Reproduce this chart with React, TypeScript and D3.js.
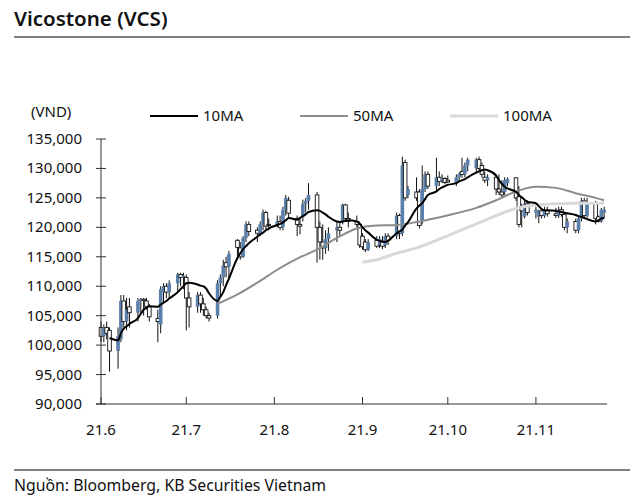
import React from "react";
import * as d3 from "d3";

// Trading calendar range (weekdays between these dates)
const START = "2021-06-01";
const END = "2021-11-26";

// Daily OHLC, thousand VND (Jun 22d, Jul 22d, Aug 22d, Sep 22d, Oct 21d, Nov 19d)
const OPEN = [
  103, 101.5, 103, 102.5, 99, 101, 107.5, 104, 106.5, 105.5, 107.5, 107.8, 107.5, 106.5, 104.5, 103.5, 109, 110, 109, 110.5, 112, 111.5,
  111.5, 108, 106.5, 108.5, 107, 106, 105, 105, 110.5, 111.5, 114, 113.3, 117.8, 116.5, 115, 118.2, 120.5, 119.5, 119, 120.5, 122.5, 120.5,
  120.3, 121, 120, 123, 124.6, 121.5, 120.5, 121.8, 124, 124.5, 125.5, 120, 117.5, 116.5, 118, 119.5, 120, 121, 123.8, 121.5, 121, 120.5,
  118.5, 117.5, 116.2, 117.8, 117, 117.5, 117, 118.5, 118.5, 122, 119, 131, 125.5, 126, 126, 121, 126.5, 129, 127, 128.5, 128, 128.3,
  128, 127.5, 128.5, 129.5, 129, 130.5, 130, 131.5, 130.5, 128.5, 128, 128.5, 126.5, 126, 126, 127.5, 128.4, 125.2, 123.5, 121.8, 124,
  122.5, 121.8, 122.8, 122, 122.8, 122.3, 122, 123, 122.2, 120, 121, 119.5, 121.5, 124.5, 122, 124, 121.8, 121, 122.5,
];
const HIGH = [
  104, 103.5, 104, 103, 103, 108.5, 108.5, 108, 108, 108, 108, 108, 108, 107, 106, 110, 110.5, 110.5, 111, 112.3, 112.3, 112.3,
  112, 109, 109, 109, 108, 106.5, 105.5, 111, 112, 114.5, 115, 116, 118, 117.5, 118.5, 121, 121, 120, 121, 123, 122.8, 121.5,
  122, 122, 123.5, 125.5, 125.2, 122, 121.5, 124.7, 125, 127.5, 126, 121, 120.5, 119.5, 120, 121, 121, 124, 124, 122.5, 122, 121,
  119, 118, 118, 118.5, 118.5, 118.5, 119, 119, 122.5, 122.3, 132, 131.5, 127, 128.5, 126.5, 130.5, 129.5, 129.5, 131.8, 129.5, 129, 128.5,
  128.8, 129, 129.3, 131.8, 131, 131.8, 131.8, 132, 131, 129.5, 129, 129, 129, 128, 128.5, 128.5, 128.5, 127, 124, 124.5, 124.6,
  123.5, 123, 123.2, 123.5, 123.5, 123.3, 123.5, 123.5, 122.5, 121.5, 121.5, 122, 125, 125, 125, 124.5, 122, 123.3, 123.5,
];
const LOW = [
  100.5, 100.5, 101, 95.5, 96, 100.5, 103, 102.5, 103, 104, 105.5, 105, 106, 104, 100.5, 102, 107, 108, 108, 109, 110, 109.5,
  102.5, 103, 105.5, 105.5, 105, 104.5, 104, 104.5, 108, 110, 111.5, 111.5, 114.5, 114.5, 114.8, 117.5, 118.5, 117.5, 118.5, 119.5, 119.5, 119.5,
  120, 119.5, 119.5, 122, 121.5, 118.5, 118.8, 121, 122.5, 123, 114, 114.5, 114.5, 115.5, 116, 117.5, 118.5, 120.5, 121, 120, 120, 116.5,
  116.2, 115.8, 116, 116.5, 116.5, 116.3, 116.5, 117, 118, 118, 118.5, 124.5, 125, 124.5, 119.8, 120.5, 126, 126.5, 126, 127, 127.5, 127.3,
  127.5, 127, 127.8, 128.4, 128.5, 129.5, 129.4, 129.5, 128.5, 127.5, 127, 125.5, 125.5, 125, 125.5, 127, 124.5, 120, 120, 121.5, 122,
  121.5, 120.7, 121.5, 121.6, 121.8, 121.6, 121.6, 121.8, 119.5, 119, 119, 119, 121, 121.5, 121.5, 120.5, 120.8, 120.8, 121.5,
];
const CLOSE = [
  101.5, 103, 102, 99, 101.5, 107.5, 104, 106, 105.5, 107.5, 107.8, 107.6, 106.5, 104.8, 104, 109.5, 110, 109, 110.5, 112, 111.5, 111.8,
  108, 106.5, 108.5, 107, 106, 105, 104.6, 110.5, 111.5, 113.5, 113.3, 115.5, 116.6, 115, 118.2, 120.5, 119.3, 119, 120.5, 122.5, 120.2, 120.3,
  121, 120, 123, 125, 122.4, 120.5, 120.2, 124, 124.5, 125.5, 120, 117.5, 116.5, 118, 119, 120, 119.5, 123.8, 121.5, 121, 120.5, 117,
  116.7, 116.2, 117.5, 116.8, 118, 116.8, 118.5, 117.8, 122, 119, 130.5, 125, 126.5, 125, 120.3, 126.5, 129, 127, 128.5, 127.8, 128.3, 127.6,
  127.7, 128.5, 129, 129, 130.5, 131.5, 131.5, 130, 129, 128, 128.5, 126.5, 126, 125.5, 128, 128.2, 125, 120.5, 122.8, 124, 122.5,
  123, 122.8, 122, 122.8, 122.3, 122, 123, 122.2, 120, 121, 119.5, 121.5, 124.5, 122, 124, 121.5, 121, 123, 123,
];

// 10-day moving average, per trading day
const MA10 = [
  null, null, null, 101.2, 100.8, 102.0, 102.8, 103.2, 103.6, 104.6, 105.3, 106.0, 106.4, 106.6, 106.5, 106.9, 107.2, 107.5, 107.9, 109.0, 109.5, 110.0,
  110.5, 110.6, 110.3, 110.1, 110.0, 109.6, 108.8, 107.5, 108.2, 109.0, 110.2, 111.3, 114.8, 115.6, 116.3, 116.8, 117.3, 118.4, 118.8, 119.1, 119.5, 119.8,
  120.4, 120.6, 120.8, 121.2, 121.6, 121.3, 121.6, 121.9, 122.2, 122.6, 122.9, 122.8, 122.5, 122.2, 121.8, 121.0, 120.9, 121.0, 121.1, 121.2, 121.0, 120.6,
  120.0, 119.5, 119.1, 117.9, 117.7, 117.6, 117.5, 117.7, 119.0, 119.3, 119.6, 120.3, 120.9, 123.2, 123.7, 124.1, 124.8, 125.5, 126.1, 126.5, 126.8, 127.0,
  127.2, 127.5, 127.8, 128.0, 128.2, 128.5, 129.3, 129.5, 129.7, 129.8, 129.7, 128.8, 128.0, 127.4, 126.9, 126.6, 126.0, 125.5, 125.1, 124.7, 124.3,
  124.1, 123.6, 123.1, 122.9, 122.9, 122.8, 122.7, 122.6, 122.5, 122.4, 122.1, 121.9, 121.8, 121.6, 121.4, 121.0, 121.2, 121.5, 121.6,
];

const MA50_DATES = [
  "2021-07-12", "2021-07-19", "2021-07-26", "2021-08-02", "2021-08-09", "2021-08-16", "2021-08-23", "2021-08-30",
  "2021-09-06", "2021-09-13", "2021-09-20", "2021-09-27", "2021-10-04", "2021-10-11", "2021-10-18", "2021-10-25",
  "2021-11-01", "2021-11-08", "2021-11-15", "2021-11-22", "2021-11-25",
];
const MA50 = [
  107.0, 108.6, 110.6, 112.8, 114.7, 116.2, 118.2, 119.8,
  120.3, 120.4, 120.9, 121.6, 122.4, 123.3, 124.6, 126.1,
  126.9, 126.7, 125.8, 125.0, 124.6,
];

const MA100_DATES = [
  "2021-09-01", "2021-09-06", "2021-09-13", "2021-09-20", "2021-09-27", "2021-10-04", "2021-10-11",
  "2021-10-18", "2021-10-25", "2021-11-01", "2021-11-08", "2021-11-15", "2021-11-22", "2021-11-25",
];
const MA100 = [114.1, 114.5, 115.6, 116.5, 117.8, 119.2, 120.6, 122.0, 123.2, 123.8, 124.0, 124.1, 124.1, 124.1];

const Y_TICKS = [90, 95, 100, 105, 110, 115, 120, 125, 130, 135];
const X_TICK_DATES = ["2021-06-01", "2021-07-01", "2021-08-01", "2021-09-01", "2021-10-01", "2021-11-01"];
const X_TICK_LABELS = ["21.6", "21.7", "21.8", "21.9", "21.10", "21.11"];

const LEGEND = ["10MA", "50MA", "100MA"];
const MA_COLORS = ["#000000", "#8c8c8c", "#d9d9d9"];
const MA_WIDTHS = [2, 2, 3];

const FONT = "'Noto Sans', sans-serif";

export default function App() {
  const W = 640;
  const H = 503;
  const parse = d3.timeParse("%Y-%m-%d");
  const start = parse(START) as Date;
  const end = parse(END) as Date;
  const days = d3.timeDay.range(start, end).filter((d) => d.getDay() !== 0 && d.getDay() !== 6);

  const x = d3.scaleTime().domain([start, end]).range([101, 607]);
  const y = d3.scaleLinear().domain([90, 135]).range([404, 139]);
  const fmt = (v: number) => d3.format(",")(v * 1000);

  const candles = days.map((d, i) => ({ d, o: OPEN[i], h: HIGH[i], l: LOW[i], c: CLOSE[i] })).filter((k) => k.o != null);

  const lineGen = d3
    .line<{ d: Date; v: number | null }>()
    .defined((p) => p.v != null)
    .x((p) => x(p.d))
    .y((p) => y(p.v as number))
    .curve(d3.curveMonotoneX);
  const ma10Pts = days.map((d, i) => ({ d, v: MA10[i] as number | null }));
  const ma50Pts = MA50_DATES.map((s, i) => ({ d: parse(s) as Date, v: MA50[i] }));
  const ma100Pts = MA100_DATES.map((s, i) => ({ d: parse(s) as Date, v: MA100[i] }));

  const bw = 3.6;

  return (
    <svg width={W} height={H} style={{ position: "absolute", left: 0, top: 0, background: "#fff" }} fontFamily={FONT}>
      <rect width={W} height={H} fill="#fff" />
      {/* Title */}
      <text x={14} y={26} fontSize={20.5} fontWeight={600} fill="#111">
        Vicostone (VCS)
      </text>
      <line x1={14} x2={630} y1={37} y2={37} stroke="#555" strokeWidth={1.5} />

      {/* Unit + legend */}
      <text x={31} y={117} fontSize={15} fill="#111">
        (VND)
      </text>
      {LEGEND.map((name, i) => (
        <g key={name} transform={`translate(${150 + i * 150},0)`}>
          <line x1={0} x2={48} y1={116} y2={116} stroke={MA_COLORS[i]} strokeWidth={MA_WIDTHS[i]} />
          <text x={53} y={121} fontSize={15} fill="#111">
            {name}
          </text>
        </g>
      ))}

      {/* Candles */}
      {candles.map((k, i) => {
        const cx = x(k.d);
        const up = k.c >= k.o;
        const top = y(Math.max(k.o, k.c));
        const bot = y(Math.min(k.o, k.c));
        return (
          <g key={i}>
            <line x1={cx} x2={cx} y1={y(k.h)} y2={y(k.l)} stroke="#111" strokeWidth={1} />
            <rect
              x={cx - bw / 2}
              y={top}
              width={bw}
              height={Math.max(1, bot - top)}
              fill={up ? "#5b7fab" : "#fff"}
              stroke={up ? "none" : "#111"}
              strokeWidth={0.9}
            />
          </g>
        );
      })}

      {/* Moving averages */}
      <path d={lineGen(ma100Pts) || ""} fill="none" stroke={MA_COLORS[2]} strokeWidth={MA_WIDTHS[2]} />
      <path d={lineGen(ma50Pts) || ""} fill="none" stroke={MA_COLORS[1]} strokeWidth={MA_WIDTHS[1]} />
      <path d={lineGen(ma10Pts) || ""} fill="none" stroke={MA_COLORS[0]} strokeWidth={MA_WIDTHS[0]} />

      {/* Y axis */}
      <line x1={101} x2={101} y1={139} y2={404} stroke="#333" strokeWidth={1} />
      {Y_TICKS.map((t) => (
        <g key={t}>
          <line x1={96} x2={106} y1={y(t)} y2={y(t)} stroke="#333" strokeWidth={1} />
          <text x={82} y={y(t) + 5} fontSize={15} textAnchor="end" fill="#111">
            {fmt(t)}
          </text>
        </g>
      ))}

      {/* X axis */}
      <line x1={96} x2={607} y1={404} y2={404} stroke="#333" strokeWidth={1} />
      {X_TICK_DATES.map((s, i) => {
        const tx = x(parse(s) as Date);
        return (
          <g key={s}>
            <line x1={tx} x2={tx} y1={397} y2={404} stroke="#333" strokeWidth={1} />
            <text x={tx} y={435} fontSize={15} textAnchor="middle" fill="#111">
              {X_TICK_LABELS[i]}
            </text>
          </g>
        );
      })}

      {/* Footer */}
      <line x1={14} x2={630} y1={470} y2={470} stroke="#555" strokeWidth={1.5} />
      <text x={14} y={491} fontSize={15.8} fill="#111">
        Nguồn: Bloomberg, KB Securities Vietnam
      </text>
    </svg>
  );
}
